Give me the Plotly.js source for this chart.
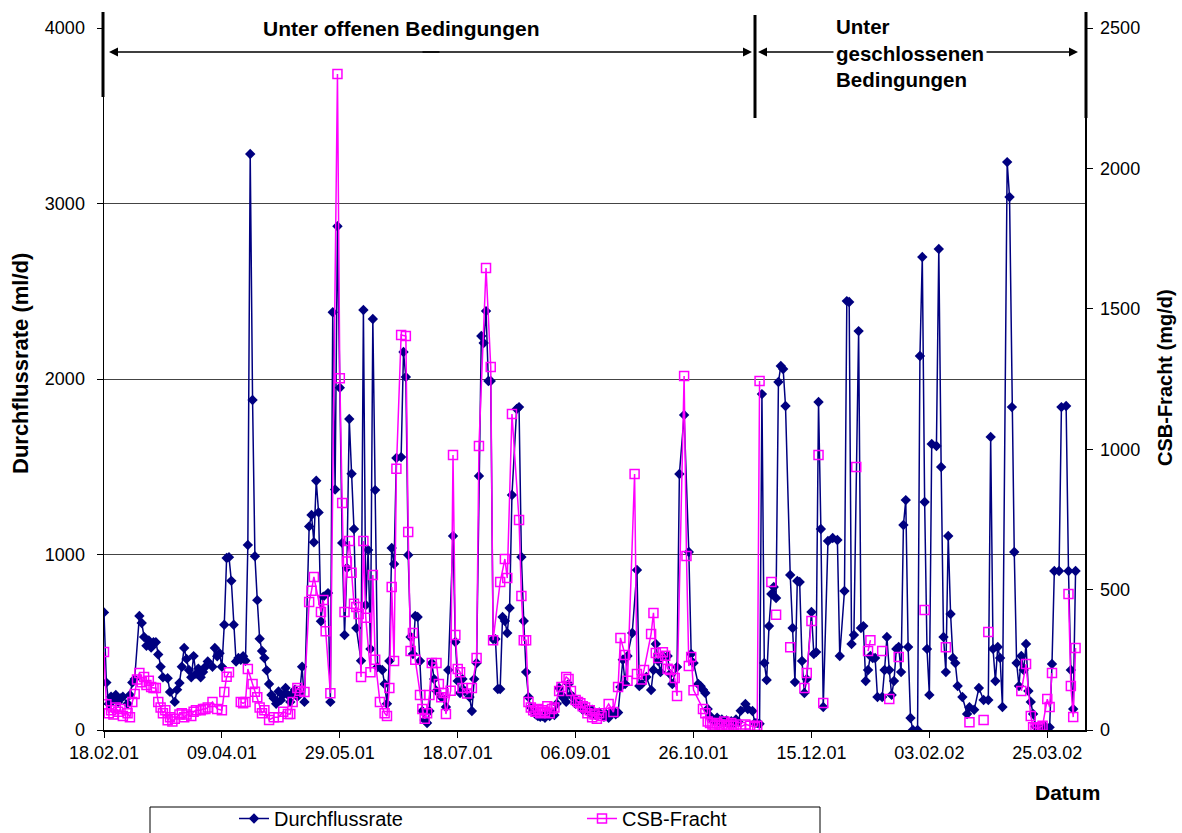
<!DOCTYPE html>
<html>
<head>
<meta charset="utf-8">
<script src="https://cdn.plot.ly/plotly-3.0.1.min.js"></script>
<style>
html,body{margin:0;padding:0;background:#fff;}
#chart{width:1182px;height:833px;}
</style>
</head>
<body>
<div id="chart"></div>
<script>
// ---- data (days after 18.02.2001) ----
const startDate = '2001-02-18';

const durDays = [0,1,2,3,4,5,6,7,8,10,11,12,13,15,16,17,18,19,20,21,22,23,24,25,27,28,30,31,32,33,34,35,36,37,38,39,40,41,42,43,44,46,47,48,49,50,51,52,53,54,55,56,57,58,59,60,61,62,63,64,65,66,67,68,69,70,71,72,73,74,75,76,77,78,79,80,81,82,83,84,85,87,88,89,90,91,92,93,95,96,97,98,99,100,101,102,103,104,105,106,107,109,110,111,112,113,114,115,116,118,119,120,121,122,123,124,126,127,128,129,130,131,132,133,134,135,136,137,138,139,140,141,143,145,146,148,149,150,151,152,153,155,156,157,158,159,160,161,162,163,164,165,166,167,168,169,170,171,172,173,175,176,177,178,179,180,181,182,183,184,185,186,187,188,189,190,191,192,193,194,195,196,197,198,199,200,201,202,203,204,205,206,207,208,209,210,211,212,213,214,215,216,217,218,219,220,221,222,224,226,227,228,230,232,233,234,235,236,237,239,240,241,243,244,246,248,249,250,252,253,254,255,256,257,258,259,260,261,262,263,264,265,266,267,268,269,270,272,273,275,276,277,278,279,280,281,282,283,284,285,286,287,288,289,291,292,293,294,295,296,297,298,300,301,302,303,304,305,307,309,311,312,314,315,316,317,318,320,321,322,323,324,325,326,327,328,330,331,332,333,334,335,336,337,338,339,340,341,342,343,345,346,347,348,349,350,351,353,354,355,356,357,358,359,360,361,362,364,366,367,369,371,373,375,376,377,378,379,380,381,383,384,385,386,387,388,389,390,391,392,393,394,395,397,399,401,402,403,405,406,408,409,410,411,412];
const durValues = [670,270,150,190,170,200,160,180,190,150,200,270,290,650,610,530,480,510,470,500,500,430,360,300,295,217,160,230,268,360,467,405,342,300,421,320,350,300,330,360,390,360,467,420,437,360,600,980,985,850,600,390,410,400,420,395,1054,3282,1880,990,740,520,450,410,340,262,200,180,150,220,170,200,240,200,160,210,230,190,210,360,160,1160,1225,1070,1420,1240,620,760,780,160,2380,1370,2870,1950,1066,541,923,1772,1460,1145,581,395,2393,712,1026,462,2342,1367,359,342,262,150,393,1037,946,1550,1555,2154,2011,997,530,433,650,644,393,108,57,40,108,382,290,222,188,131,342,1105,501,279,211,290,222,188,108,290,382,1447,2245,2205,2387,1989,1989,518,518,234,234,644,621,553,695,1339,1829,1840,986,621,330,188,130,110,90,80,75,80,70,90,80,100,85,150,239,200,180,160,262,200,188,150,160,140,115,130,110,100,115,90,80,100,85,75,90,70,100,110,90,100,245,400,262,422,553,912,251,262,302,228,342,490,393,330,422,422,319,262,359,1459,1795,1014,433,382,262,250,230,211,120,80,60,50,70,45,60,40,55,35,50,40,60,45,110,148,120,108,40,40,35,1914,382,285,592,775,815,752,1983,2074,2057,1846,883,581,273,849,843,393,211,290,672,433,444,1869,1145,131,1077,1094,1083,422,792,2444,2439,490,541,2273,581,592,279,342,422,410,410,188,188,342,530,342,200,279,462,473,330,1168,1310,473,68,0,0,2131,2695,1299,462,200,1630,1618,2741,1499,530,330,1105,661,410,382,251,188,91,130,115,239,171,171,1670,462,279,473,410,131,3236,3037,1840,1014,382,251,422,342,490,222,160,91,20,10,20,15,376,906,906,1840,1846,906,342,120,906];

const csbDays = [0,1,2,3,4,5,6,7,8,10,11,12,13,14,15,16,17,18,19,20,21,22,23,24,25,26,27,28,29,30,32,33,34,35,37,38,39,41,42,43,44,46,48,50,51,52,53,55,58,59,60,61,63,64,65,66,67,68,70,72,74,76,78,79,80,82,83,85,87,88,89,92,93,94,96,99,100,101,102,103,104,105,106,107,108,109,110,111,113,114,115,117,119,120,121,122,123,124,126,128,129,130,131,132,134,135,136,137,138,139,141,142,143,144,145,147,148,149,150,151,152,154,156,158,159,162,164,165,168,170,171,173,176,177,178,179,180,181,182,183,184,185,186,187,188,189,190,191,193,194,196,197,198,200,201,202,203,204,205,206,207,208,209,210,211,214,216,218,219,221,222,225,226,228,229,232,233,234,235,237,238,239,240,242,243,246,247,248,249,250,254,255,256,257,258,259,260,261,262,263,264,265,266,267,268,270,272,274,276,277,278,280,283,284,285,288,291,295,297,298,300,301,303,304,305,310,319,322,324,325,328,330,331,333,335,337,340,348,352,357,362,367,370,373,374,375,380,389,391,393,394,395,396,397,398,400,401,402,405,409,410,411,412];
const csbValues = [278,92,60,70,55,80,65,75,50,60,45,100,128,180,203,170,189,160,175,153,150,150,100,80,60,70,35,45,30,40,55,60,45,55,50,65,70,70,75,75,80,100,75,70,135,190,206,null,100,95,100,217,164,136,117,80,60,70,36,45,45,65,57,57,100,150,140,135,456,496,545,420,463,352,131,2336,1253,808,420,600,673,560,450,438,413,189,673,400,206,552,250,100,60,50,150,509,246,930,1407,1403,705,281,345,250,125,75,40,60,125,239,239,164,117,132,57,140,979,338,217,206,150,130,150,256,1011,1645,1293,320,527,609,541,1125,748,477,320,320,100,80,70,65,75,60,70,65,85,60,75,80,139,153,189,182,139,107,100,95,85,80,60,70,45,55,40,60,50,93,64,153,328,267,175,912,199,180,214,342,417,274,256,277,264,218,214,185,121,1261,620,228,260,142,75,60,30,25,20,15,25,20,15,30,20,15,25,15,20,11,20,15,11,15,1243,null,527,null,410,null,295,null,150,203,388,null,979,null,96,null,937,null,281,320,null,281,null,110,null,260,null,427,null,295,null,28,null,36,null,349,null,139,235,50,10,8,5,10,15,110,82,203,null,484,157,46,292];

const tickDays = [0,50,100,150,200,250,300,350,400];
const tickLabels = ['18.02.01','09.04.01','29.05.01','18.07.01','06.09.01','26.10.01','15.12.01','03.02.02','25.03.02'];
const xRangeDays = [0,416];
const leftTicks = [0,1000,2000,3000,4000];
const rightTicks = [0,500,1000,1500,2000,2500];

const seriesNames = ['Durchflussrate','CSB-Fracht'];
const leftTitle = 'Durchflussrate (ml/d)';
const rightTitle = 'CSB-Fracht (mg/d)';
const xTitle = 'Datum';
const phase1 = 'Unter offenen Bedingungen';
const phase2 = 'Unter<br>geschlossenen<br>Bedingungen';

// ---- helpers ----
const DAY = 86400000;
const t0 = Date.parse(startDate + 'T00:00:00Z');
function toDate(d){ return new Date(t0 + d*DAY).toISOString().slice(0,10); }

const FONT = 'Arial, "Liberation Sans", sans-serif';
const L = 104, R = 1085, T = 28, B = 730;
function px(x){ return (x - L) / (R - L); }
function py(y){ return (B - y) / (B - T); }

const traces = [
  {
    x: durDays.map(toDate), y: durValues, type: 'scatter', mode: 'lines+markers',
    name: seriesNames[0], yaxis: 'y',
    line: {color: '#000080', width: 1.5},
    marker: {symbol: 'diamond', size: 8, color: '#000080'}
  },
  {
    x: csbDays.map(toDate), y: csbValues, type: 'scatter', mode: 'lines+markers',
    name: seriesNames[1], yaxis: 'y2', connectgaps: false,
    line: {color: '#FF00FF', width: 1.5},
    marker: {symbol: 'square-open', size: 9, color: '#FF00FF', line: {width: 1.5, color: '#FF00FF'}}
  }
];

const arrowBase = {xref:'paper', yref:'paper', text:'', showarrow:true, arrowhead:2, arrowsize:1.2, arrowwidth:1.5, arrowcolor:'#000', ay:0, standoff:0, startstandoff:0};

const layout = {
  width: 1182, height: 833,
  margin: {l: L, r: 1182 - R, t: T, b: 833 - B, autoexpand: false},
  paper_bgcolor: '#fff', plot_bgcolor: '#fff',
  font: {family: FONT, size: 18, color: '#000'},
  showlegend: true,
  legend: {orientation: 'h', x: px(234), y: py(799), xanchor: 'left', yanchor: 'top',
           font: {family: FONT, size: 20, color: '#000'}, bgcolor: 'rgba(0,0,0,0)',
           borderwidth: 0, entrywidth: 303, entrywidthmode: 'pixels', traceorder: 'normal'},
  xaxis: {
    type: 'date', range: xRangeDays.map(toDate),
    tickmode: 'array', tickvals: tickDays.map(toDate), ticktext: tickLabels,
    ticks: 'outside', ticklen: 6, tickcolor: '#000', showgrid: false, zeroline: false,
    showline: true, linecolor: '#000', linewidth: 1.5,
    tickfont: {family: FONT, size: 18, color: '#000'}
  },
  yaxis: {
    range: [0, 4000], tickmode: 'array', tickvals: leftTicks, ticktext: leftTicks.map(String),
    ticks: 'outside', ticklen: 6, tickcolor: '#000', ticklabelstandoff: 8,
    showgrid: true, gridcolor: '#444', gridwidth: 1, zeroline: false,
    showline: true, linecolor: '#000', linewidth: 1.5,
    tickfont: {family: FONT, size: 18, color: '#000'}
  },
  yaxis2: {
    overlaying: 'y', side: 'right', range: [0, 2500],
    tickmode: 'array', tickvals: rightTicks, ticktext: rightTicks.map(String),
    ticks: 'outside', ticklen: 6, tickcolor: '#000', ticklabelstandoff: 4,
    showgrid: false, zeroline: false, showline: true, linecolor: '#000', linewidth: 1.5,
    tickfont: {family: FONT, size: 18, color: '#000'}
  },
  shapes: [
    {type:'rect', xref:'paper', yref:'paper', x0:px(150), x1:px(820), y0:py(807), y1:py(850), line:{color:'#000', width:1}, fillcolor:'rgba(0,0,0,0)'},
    {type:'line', xref:'paper', yref:'paper', x0:px(103), x1:px(103), y0:py(12), y1:py(97), line:{color:'#000', width:3}},
    {type:'line', xref:'paper', yref:'paper', x0:px(755), x1:px(755), y0:py(15), y1:py(118), line:{color:'#000', width:3}},
    {type:'line', xref:'paper', yref:'paper', x0:px(1086), x1:px(1086), y0:py(12), y1:py(118), line:{color:'#000', width:3}}
  ],
  annotations: [
    Object.assign({}, arrowBase, {x: px(109), y: py(52), ax: 332}),
    Object.assign({}, arrowBase, {x: px(752), y: py(52), ax: -331}),
    Object.assign({}, arrowBase, {x: px(758), y: py(52), ax: 166}),
    Object.assign({}, arrowBase, {x: px(1078), y: py(52), ax: -166}),
    {xref:'paper', yref:'paper', x: px(401), y: py(28), xanchor:'center', yanchor:'middle', showarrow:false,
     text: '<b>' + phase1 + '</b>', font:{family:FONT, size:21, color:'#000'}, bgcolor:'#fff', borderpad:3},
    {xref:'paper', yref:'paper', x: px(833), y: py(53), xanchor:'left', yanchor:'middle', align:'left', showarrow:false,
     text: '<b>' + phase2 + '</b>', font:{family:FONT, size:20.5, color:'#000'}, bgcolor:'#fff', borderpad:2},
    {xref:'paper', yref:'paper', x: px(20), y: py(364), xanchor:'center', yanchor:'middle', showarrow:false, textangle:-90,
     text: '<b>' + leftTitle + '</b>', font:{family:FONT, size:22, color:'#000'}},
    {xref:'paper', yref:'paper', x: px(1165), y: py(378), xanchor:'center', yanchor:'middle', showarrow:false, textangle:-90,
     text: '<b>' + rightTitle + '</b>', font:{family:FONT, size:20, color:'#000'}},
    {xref:'paper', yref:'paper', x: px(1067), y: py(793), xanchor:'center', yanchor:'middle', showarrow:false,
     text: '<b>' + xTitle + '</b>', font:{family:FONT, size:21, color:'#000'}}
  ]
};

Plotly.newPlot('chart', traces, layout, {displayModeBar: false, staticPlot: true});
</script>
</body>
</html>
